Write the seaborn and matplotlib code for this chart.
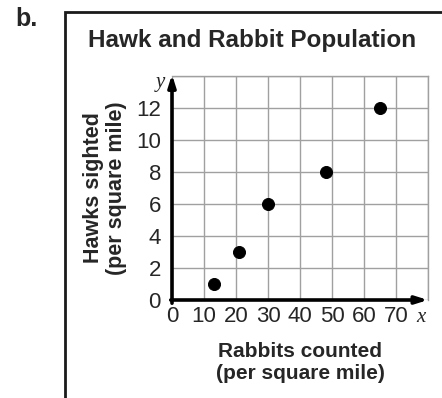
import matplotlib
matplotlib.use("Agg")
import matplotlib.pyplot as plt
import seaborn as sns
import pandas as pd
from matplotlib.patches import Rectangle

rabbits = [13, 21, 30, 48, 65]
hawks = [1, 3, 6, 8, 12]
x_ticks = [0, 10, 20, 30, 40, 50, 60, 70, 80]
x_tick_labels = ["0", "10", "20", "30", "40", "50", "60", "70", ""]
y_ticks = [0, 2, 4, 6, 8, 10, 12, 14]
y_tick_labels = ["0", "2", "4", "6", "8", "10", "12", ""]

sns.set_style("white")
plt.rcParams['font.family'] = ['Liberation Sans', 'DejaVu Sans']

df = pd.DataFrame({"Rabbits": rabbits, "Hawks": hawks})

fig = plt.figure(figsize=(4.42, 3.98), dpi=100)
ax = fig.add_axes([172/442, 1-300/398, 256/442, 224/398])

# frame
fig.patches.append(Rectangle((65/442, -0.1), 1.0, 1 - 12/398 + 0.1, transform=fig.transFigure,
                             fill=False, edgecolor="#1a1a1a", linewidth=2, clip_on=False))

ax.set_xlim(0, 80)
ax.set_ylim(0, 14)
ax.set_xticks(x_ticks)
ax.set_xticklabels(x_tick_labels, fontsize=16)
ax.set_yticks(y_ticks)
ax.set_yticklabels(y_tick_labels, fontsize=16)
ax.tick_params(axis="x", length=0, pad=4)
ax.tick_params(axis="y", length=0, pad=8)
ax.grid(True, color="#a0a0a0", linewidth=1.0)
for s in ["left", "bottom"]:
    ax.spines[s].set_visible(False)
for s in ["top", "right"]:
    ax.spines[s].set_color("#a0a0a0")
    ax.spines[s].set_linewidth(1.0)

sns.scatterplot(data=df, x="Rabbits", y="Hawks", ax=ax, color="black", s=75,
                edgecolor="black", zorder=5, clip_on=False)

arrow = dict(arrowstyle="-|>,head_length=0.7,head_width=0.22", color="black", lw=2.6,
             shrinkA=0, shrinkB=0)
ax.annotate("", xy=(80, 0), xytext=(-0.4, 0), arrowprops=arrow, annotation_clip=False, zorder=6)
ax.annotate("", xy=(0, 14.1), xytext=(0, -0.2), arrowprops=arrow, annotation_clip=False, zorder=6)

ax.set_xlabel("Rabbits counted\n(per square mile)", fontsize=15, fontweight="bold", labelpad=11,
              linespacing=1.2)
ax.set_ylabel("Hawks sighted\n(per square mile)", fontsize=15.5, fontweight="bold", labelpad=6.5,
              linespacing=1.15)

fig.text(421/442, 1-318/398, "x", fontsize=15, style="italic", family="Liberation Serif",
         ha="center", va="center")
fig.text(160/442, 1-82/398, "y", fontsize=15, style="italic", family="Liberation Serif",
         ha="center", va="center")

fig.text(252/442, 1-40/398, "Hawk and Rabbit Population", fontsize=17.5, fontweight="bold",
         ha="center", va="center")
fig.text(15/442, 1-19/398, "b.", fontsize=18, fontweight="bold", ha="left", va="center")

fig.savefig("out.png", dpi=100)
